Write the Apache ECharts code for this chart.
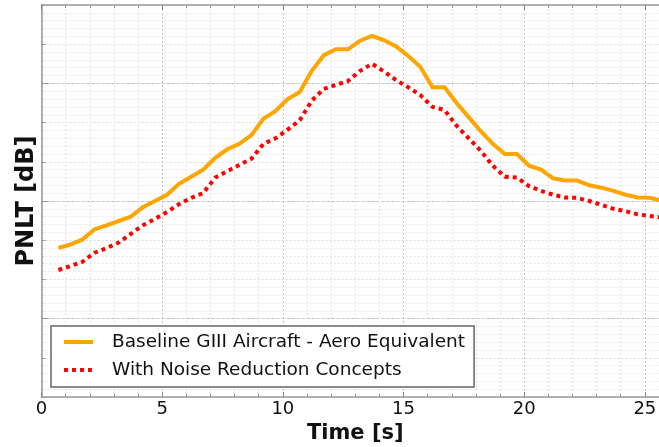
<!DOCTYPE html>
<html>
<head>
<meta charset="utf-8">
<script src="https://cdn.jsdelivr.net/npm/echarts@6/dist/echarts.min.js"></script>
<style>
html,body{margin:0;padding:0;background:#fff;overflow:hidden;width:659px;height:447px;}
#chart{width:669px;height:447px;}
</style>
</head>
<body>
<div id="chart"></div>
<script>
const times = [0.7, 1.2, 1.7, 2.2, 2.7, 3.2, 3.7, 4.2, 4.7, 5.2, 5.7, 6.2, 6.7, 7.2, 7.7, 8.2, 8.7, 9.2, 9.7, 10.2,
  10.7, 11.2, 11.7, 12.2, 12.7, 13.2, 13.7, 14.2, 14.7, 15.2, 15.7, 16.2, 16.7, 17.2, 17.7, 18.2, 18.7, 19.2, 19.7, 20.2,
  20.7, 21.2, 21.7, 22.2, 22.7, 23.2, 23.7, 24.2, 24.7, 25.2, 25.7];
const baseline = [84.0, 84.45, 85.1, 86.4, 86.9, 87.45, 88.0, 89.2, 90.0, 90.8,
  92.2, 93.1, 94.0, 95.5, 96.6, 97.3, 98.4, 100.5, 101.5, 103.0,
  103.9, 106.6, 108.6, 109.35, 109.35, 110.45, 111.05, 110.5, 109.7, 108.5,
  107.1, 104.5, 104.5, 102.5, 100.7, 98.9, 97.3, 96.0, 96.0, 94.5,
  94.0, 92.9, 92.6, 92.6, 92.0, 91.7, 91.3, 90.8, 90.45, 90.4, 90.05];
const reduced = [81.2, 81.7, 82.25, 83.4, 84.0, 84.7, 85.8, 86.9, 87.7, 88.6,
  89.6, 90.4, 91.0, 93.0, 93.8, 94.6, 95.4, 97.3, 98.0, 99.1,
  100.3, 102.8, 104.3, 104.8, 105.3, 106.6, 107.5, 106.5, 105.4, 104.5,
  103.5, 102.0, 101.6, 99.6, 98.0, 96.4, 94.5, 93.1, 93.0, 91.9,
  91.3, 90.8, 90.45, 90.4, 90.0, 89.5, 89.0, 88.7, 88.3, 88.1, 87.9];
const seriesNames = ['Baseline GIII Aircraft - Aero Equivalent', 'With Noise Reduction Concepts'];
const xTickLabels = ['0', '5', '10', '15', '20', '25'];
const yMajorLines = [75, 90, 105];

const FONT = 'DejaVu Sans';
const pairs = (ys) => times.map((t, i) => [t, ys[i]]);

const chart = echarts.init(document.getElementById('chart'), null, {renderer: 'canvas'});
const xCommon = {
  type: 'value', min: 0, max: 26, interval: 5,
  axisLine: {show: true, lineStyle: {color: '#999', width: 1.5}},
  axisTick: {show: true, inside: true, length: 5, lineStyle: {color: '#888'}},
  minorTick: {show: true, splitNumber: 5, length: 3, lineStyle: {color: '#999'}},
};
chart.setOption({
  animation: false,
  backgroundColor: '#fff',
  grid: {left: 41.5, top: 5, bottom: 50, right: 0, containLabel: false, outerBoundsMode: 'none'},
  xAxis: [
    Object.assign({}, xCommon, {
      position: 'bottom',
      name: 'Time [s]', nameLocation: 'middle', nameGap: 26,
      nameTextStyle: {fontFamily: FONT, fontWeight: 'bold', fontSize: 21, color: '#111', verticalAlign: 'top'},
      axisLabel: {show: true, fontFamily: FONT, fontSize: 18, color: '#111', margin: 3,
        showMaxLabel: false,
        formatter: (v) => { const s = String(v); return xTickLabels.indexOf(s) >= 0 ? s : ''; }},
      splitLine: {show: true, lineStyle: {color: '#c4c4c4', type: [2, 2], width: 1}},
      minorSplitLine: {show: true, lineStyle: {color: '#e2e2e2', type: [2, 2], width: 1}},
    }),
    Object.assign({}, xCommon, {
      position: 'top',
      axisLabel: {show: false},
      splitLine: {show: false},
      minorSplitLine: {show: false},
    })
  ],
  yAxis: [
    {
      type: 'value', min: 65, max: 115, position: 'left',
      name: 'PNLT [dB]', nameLocation: 'middle', nameGap: 3, nameRotate: 90,
      nameTextStyle: {fontFamily: FONT, fontWeight: 'bold', fontSize: 24, color: '#111'},
      axisLine: {show: true, lineStyle: {color: '#999', width: 1.5}},
      axisTick: {show: true, inside: true, length: 6, customValues: yMajorLines, lineStyle: {color: '#888'}},
      axisLabel: {show: false},
      splitLine: {show: true, lineStyle: {color: '#b4b4b4', type: [3, 2], width: 1}},
    },
    {
      type: 'value', min: 65, max: 115, interval: 5, position: 'left',
      axisLine: {show: false},
      axisTick: {show: true, inside: true, length: 4, lineStyle: {color: '#999'}},
      minorTick: {show: true, splitNumber: 5, length: 2, lineStyle: {color: '#aaa'}},
      axisLabel: {show: false},
      splitLine: {show: true, lineStyle: {color: '#d8d8d8', type: [2, 2], width: 1}},
      minorSplitLine: {show: true, lineStyle: {color: '#e8e8e8', type: [2, 2], width: 1}},
    }
  ],
  legend: {
    show: true, orient: 'vertical', left: 51, top: 326,
    padding: [6, 9, 7, 11], itemGap: 8, itemWidth: 29, itemHeight: 14,
    backgroundColor: '#fff', borderColor: '#666', borderWidth: 1.5, borderRadius: 0,
    lineStyle: {width: 4},
    itemStyle: {color: 'rgba(0,0,0,0)', borderColor: 'rgba(0,0,0,0)', borderWidth: 0, opacity: 0},
    textStyle: {fontFamily: FONT, fontSize: 18.5, color: '#111', lineHeight: 20, padding: [0, 0, 0, 14]},
    data: seriesNames
  },
  series: [
    {
      name: seriesNames[0], type: 'line', xAxisIndex: 0, yAxisIndex: 0,
      data: pairs(baseline), symbol: 'none', smooth: false, clip: true,
      lineStyle: {color: '#FFA500', width: 4, join: 'miter'},
      itemStyle: {color: '#FFA500'}, z: 3
    },
    {
      name: seriesNames[1], type: 'line', xAxisIndex: 0, yAxisIndex: 0,
      data: pairs(reduced), symbol: 'none', smooth: false, clip: true,
      lineStyle: {color: '#FF0000', width: 4, type: [4, 4], cap: 'butt'},
      itemStyle: {color: '#FF0000'}, z: 4
    }
  ]
});
</script>
</body>
</html>
